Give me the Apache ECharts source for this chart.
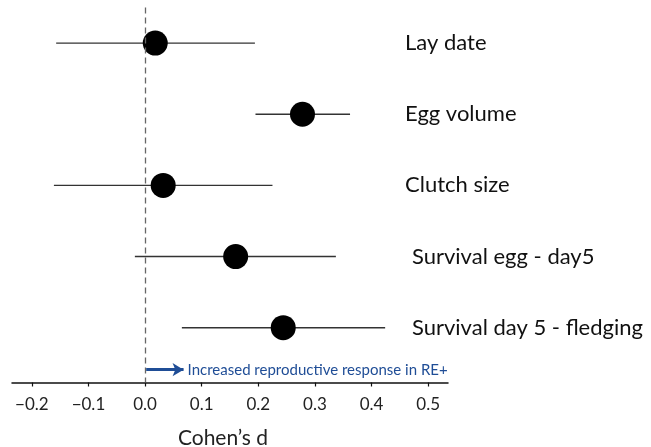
<!DOCTYPE html>
<html><head><meta charset="utf-8">
<script src="https://cdn.jsdelivr.net/npm/echarts@6/dist/echarts.min.js"></script>
<style>html,body{margin:0;padding:0;background:#fff}#c{width:651px;height:447px}</style>
</head><body><div id="c"></div>
<script>
const categories = ["Lay date", "Egg volume", "Clutch size", "Survival egg - day5", "Survival day 5 - fledging"];
const estimates = [0.018, 0.278, 0.032, 0.160, 0.244];
const lowerCI = [-0.157, 0.195, -0.161, -0.018, 0.065];
const upperCI = [0.194, 0.362, 0.225, 0.337, 0.424];
const xTicks = [-0.2, -0.1, 0.0, 0.1, 0.2, 0.3, 0.4, 0.5];
const annotationText = "Increased reproductive response in RE+";

const FONT = "Lato";
const chart = echarts.init(document.getElementById('c'), null, {renderer: 'canvas'});
const idx = categories.map((_, i) => i);

chart.setOption({
  animation: false,
  grid: {left: 12, right: 203, top: 7.5, bottom: 64.5, containLabel: false, outerBoundsMode: 'none'},
  xAxis: {
    type: 'value', min: -0.235, max: 0.535,
    splitLine: {show: false},
    axisLine: {show: true, onZero: false, lineStyle: {color: '#111', width: 1.5}},
    axisTick: {show: true, customValues: xTicks, length: 4, lineStyle: {color: '#111', width: 1.2}},
    axisLabel: {
      customValues: xTicks, margin: 14, color: '#222', fontFamily: FONT, fontSize: 17,
      formatter: v => (v < 0 ? '\u2212' : '') + Math.abs(v).toFixed(1)
    },
    name: 'Cohen\u2019s d', nameLocation: 'middle', nameGap: 45,
    nameTextStyle: {color: '#222', fontFamily: FONT, fontSize: 21, padding: [0, 14, 0, 0]}
  },
  yAxis: {
    type: 'value', min: -0.5, max: 4.77, inverse: true, position: 'right', offset: -43,
    splitLine: {show: false}, axisLine: {show: false}, axisTick: {show: false},
    axisLabel: {
      customValues: idx, margin: 0, align: 'left', color: '#111', fontFamily: FONT, fontSize: 22,
      formatter: v => (v >= 3 ? '{s|' : '{n|') + categories[v] + '}',
      rich: {
        n: {fontFamily: FONT, fontSize: 22, color: '#111'},
        s: {fontFamily: FONT, fontSize: 22, color: '#111', padding: [0, 0, 0, 7]}
      }
    }
  },
  series: [
    {
      type: 'custom',
      data: idx.map(i => [lowerCI[i], upperCI[i], i]),
      encode: {x: [0, 1], y: 2},
      renderItem: (params, api) => {
        const a = api.coord([api.value(0), api.value(2)]);
        const b = api.coord([api.value(1), api.value(2)]);
        return {type: 'line', shape: {x1: a[0], y1: a[1], x2: b[0], y2: b[1]},
          style: {stroke: '#333', lineWidth: 1.4}};
      },
      markLine: {
        silent: true, symbol: 'none', label: {show: false},
        lineStyle: {color: '#666', type: [6, 4], width: 1.3},
        data: [{xAxis: 0}]
      },
      z: 2
    },
    {
      type: 'scatter',
      data: idx.map(i => [estimates[i], i]),
      symbol: 'circle', symbolSize: 25,
      itemStyle: {color: '#000', opacity: 1},
      z: 3
    },
    {
      type: 'scatter', data: [],
      markLine: {
        silent: true, symbol: ['none', 'arrow'], symbolSize: [10, 11],
        lineStyle: {color: '#1f4d96', width: 2.8, type: 'solid'},
        label: {
          show: true, position: 'end', formatter: annotationText, distance: 4,
          color: '#1f4d96', fontFamily: FONT, fontSize: 15
        },
        data: [[{coord: [0.002, 4.59]}, {coord: [0.068, 4.59]}]]
      }
    }
  ]
});
</script></body></html>
